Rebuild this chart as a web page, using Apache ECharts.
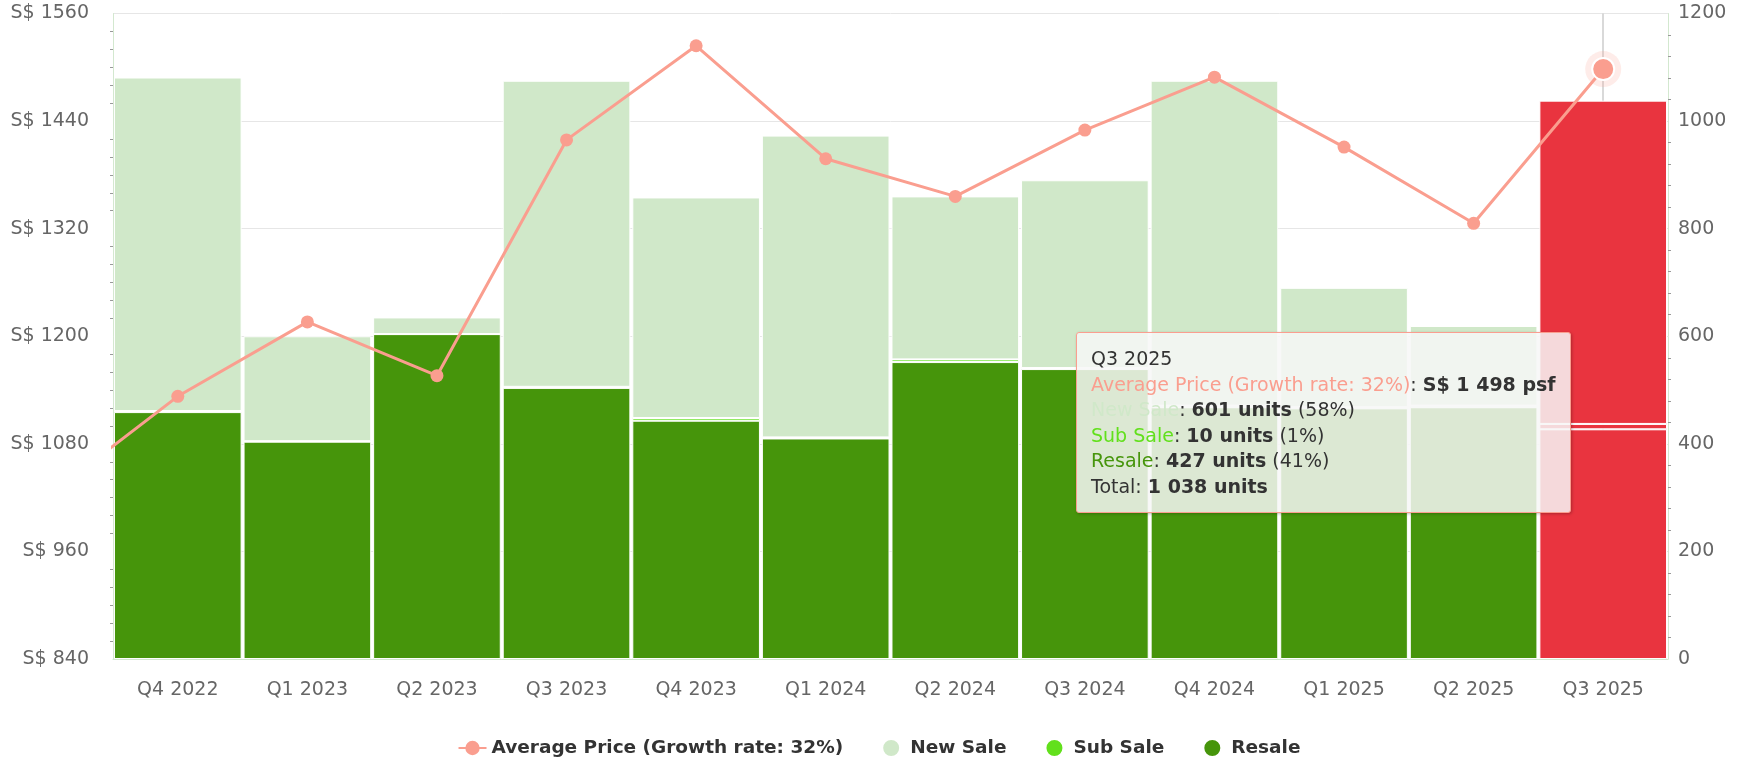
<!DOCTYPE html>
<html>
<head>
<meta charset="utf-8">
<script src="https://cdn.jsdelivr.net/npm/echarts@6/dist/echarts.min.js"></script>
<style>
  html, body { margin: 0; padding: 0; background: #fff; }
  #chart { width: 1758px; height: 765px; }
</style>
</head>
<body>
<div id="chart"></div>
<script>
// Q3 2022 sits left of the visible window: only its price is used, so the line enters from the edge
const categories = ['Q3 2022', 'Q4 2022', 'Q1 2023', 'Q2 2023', 'Q3 2023', 'Q4 2023', 'Q1 2024',
  'Q2 2024', 'Q3 2024', 'Q4 2024', 'Q1 2025', 'Q2 2025', 'Q3 2025'];
const avgPrice = [1022, 1133, 1216, 1156, 1419, 1524, 1398, 1356, 1430, 1489, 1411, 1326, 1498];
const resale = [null, 459, 404, 604, 504, 443, 410, 552, 539, 468, 466, 468, 427];
const subSale = [null, 2, 1, 0, 2, 5, 2, 5, 2, 3, 2, 3, 10];
const newSale = [null, 620, 195, 31, 569, 410, 561, 303, 349, 604, 222, 148, 601];
const priceTicks = [840, 960, 1080, 1200, 1320, 1440, 1560];
const unitTicks = [0, 200, 400, 600, 800, 1000, 1200];

const priceName = 'Average Price (Growth rate: 32%)';
const hoverIndex = 12;

const colors = {
  price: '#fa9e8f',
  newSale: '#d0e8c9',
  subSale: '#62e01c',
  resale: '#46950b',
  hover: '#e9343f'
};

// thousands with a space, as in the tooltip
function fmt(n) {
  return String(n).replace(/\B(?=(\d{3})+(?!\d))/g, ' ');
}

function barData(values) {
  return values.map((v, i) => i === hoverIndex ? { value: v, itemStyle: { color: colors.hover } } : v);
}

const priceData = avgPrice.map((v, i) => i === hoverIndex
  ? { value: v, symbolSize: 20, itemStyle: { borderColor: '#fff', borderWidth: 2 } }
  : v);

const chart = echarts.init(document.getElementById('chart'));

const barCommon = {
  type: 'bar',
  stack: 'units',
  yAxisIndex: 1,
  barCategoryGap: '1.5%',
  z: 2,
  emphasis: { disabled: true },
  itemStyle: { borderColor: '#fff', borderWidth: 1 }
};

chart.setOption({
  animation: false,
  textStyle: { fontFamily: 'DejaVu Sans' },
  grid: { left: 113, right: 90, top: 13.5, bottom: 106 },
  legend: {
    bottom: 2,
    itemGap: 38,
    itemWidth: 28,
    itemHeight: 18,
    data: [
      { name: priceName },
      { name: 'New Sale', icon: 'circle' },
      { name: 'Sub Sale', icon: 'circle' },
      { name: 'Resale', icon: 'circle' }
    ],
    textStyle: { color: '#333', fontWeight: 'bold', fontSize: 18.5, fontFamily: 'DejaVu Sans' }
  },
  tooltip: {
    trigger: 'axis',
    alwaysShowContent: true,
    transitionDuration: 0,
    position: [1076, 332],
    backgroundColor: 'rgba(247,247,247,0.85)',
    borderColor: colors.price,
    borderWidth: 1,
    padding: [13, 14],
    extraCssText: 'border-radius:3px;box-shadow:1px 1px 3px rgba(0,0,0,0.25);line-height:25.5px;',
    textStyle: { color: '#333', fontSize: 19, fontFamily: 'DejaVu Sans' },
    axisPointer: {
      type: 'line',
      z: 1,
      lineStyle: { color: '#cccccc', width: 1.5, type: 'solid' }
    },
    formatter: function (params) {
      const i = params[0].dataIndex;
      const total = resale[i] + subSale[i] + newSale[i];
      const pct = v => Math.round(v / total * 100) + '%';
      return '<div>' + categories[i] + '</div>' +
        '<div><span style="color:' + colors.price + '">' + priceName + '</span>: <b>S$ ' + fmt(avgPrice[i]) + ' psf</b></div>' +
        '<div><span style="color:' + colors.newSale + '">New Sale</span>: <b>' + fmt(newSale[i]) + ' units</b> (' + pct(newSale[i]) + ')</div>' +
        '<div><span style="color:' + colors.subSale + '">Sub Sale</span>: <b>' + fmt(subSale[i]) + ' units</b> (' + pct(subSale[i]) + ')</div>' +
        '<div><span style="color:' + colors.resale + '">Resale</span>: <b>' + fmt(resale[i]) + ' units</b> (' + pct(resale[i]) + ')</div>' +
        '<div>Total: <b>' + fmt(total) + ' units</b></div>';
    }
  },
  xAxis: {
    type: 'category',
    data: categories,
    min: 1,
    axisLine: { lineStyle: { color: '#d3e8cf' } },
    axisTick: { alignWithLabel: true, length: 14, lineStyle: { color: '#d3e8cf' } },
    axisLabel: { color: '#666', fontSize: 19, margin: 22 }
  },
  yAxis: [
    {
      type: 'value',
      min: priceTicks[0],
      max: priceTicks[priceTicks.length - 1],
      interval: priceTicks[1] - priceTicks[0],
      axisLine: { show: true, lineStyle: { color: '#d3e8cf' } },
      axisTick: { show: false },
      minorTick: { show: true, splitNumber: 6, length: 3, lineStyle: { color: '#999' } },
      axisLabel: { color: '#666', fontSize: 19, margin: 24, formatter: v => 'S$ ' + v },
      splitLine: { lineStyle: { color: '#e6e6e6' } }
    },
    {
      type: 'value',
      min: unitTicks[0],
      max: unitTicks[unitTicks.length - 1],
      interval: unitTicks[1] - unitTicks[0],
      axisLine: { show: true, lineStyle: { color: '#d3e8cf' } },
      axisTick: { show: false },
      minorTick: { show: true, splitNumber: 5, length: 3, lineStyle: { color: '#999' } },
      axisLabel: { color: '#666', fontSize: 19, margin: 10, formatter: v => String(v) },
      splitLine: { show: false }
    }
  ],
  series: [
    Object.assign({ name: 'Resale', data: barData(resale), color: colors.resale }, barCommon),
    Object.assign({ name: 'Sub Sale', data: barData(subSale), color: colors.subSale }, barCommon),
    Object.assign({ name: 'New Sale', data: barData(newSale), color: colors.newSale }, barCommon),
    {
      name: 'halo',
      type: 'scatter',
      yAxisIndex: 0,
      z: 3,
      silent: true,
      symbolSize: 36,
      itemStyle: { color: 'rgba(250,158,143,0.25)' },
      emphasis: { disabled: true },
      data: [[categories[hoverIndex], avgPrice[hoverIndex]]]
    },
    {
      name: priceName,
      type: 'line',
      yAxisIndex: 0,
      z: 4,
      color: colors.price,
      symbol: 'circle',
      symbolSize: 13,
      lineStyle: { width: 3 },
      emphasis: { disabled: true },
      data: priceData
    }
  ]
});

chart.dispatchAction({ type: 'showTip', seriesIndex: 4, dataIndex: hoverIndex });
</script>
</body>
</html>
